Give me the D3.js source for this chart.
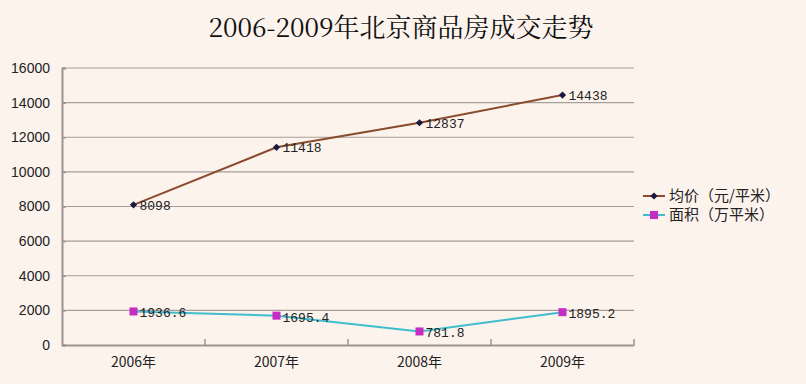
<!DOCTYPE html>
<html lang="zh">
<head>
<meta charset="utf-8">
<title>2006-2009年北京商品房成交走势</title>
<script src="https://d3js.org/d3.v7.min.js"></script>
<style>
  body { margin: 0; background: #fcf3ed; }
  svg { display: block; }
</style>
</head>
<body>
<script>
// data
var years = ["2006年", "2007年", "2008年", "2009年"];
var avgPrice = [8098, 11418, 12837, 14438];
var area = [1936.6, 1695.4, 781.8, 1895.2];
var priceLabels = ["8098", "11418", "12837", "14438"];
var areaLabels = ["1936.6", "1695.4", "781.8", "1895.2"];
var yTicks = [0, 2000, 4000, 6000, 8000, 10000, 12000, 14000, 16000];
var seriesNames = ["均价（元/平米）", "面积（万平米）"];

var width = 806, height = 384;
var margin = {top: 68, right: 172, bottom: 39, left: 62};
var cjk = "'Noto Sans CJK SC', 'Liberation Sans', sans-serif";

var svg = d3.select("body").append("svg")
  .attr("width", width)
  .attr("height", height);

svg.append("rect").attr("width", width).attr("height", height).attr("fill", "#fcf3ed");

// title
svg.append("text")
  .attr("x", 401)
  .attr("y", 37)
  .attr("text-anchor", "middle")
  .style("font-family", "'Noto Serif CJK SC', 'Liberation Serif', 'Noto Sans CJK SC', serif")
  .style("font-size", "26px")
  .style("fill", "#111")
  .text("2006-2009年北京商品房成交走势");

var x = d3.scaleBand()
  .domain(years)
  .range([margin.left, width - margin.right]);

var y = d3.scaleLinear()
  .domain([0, 16000])
  .range([height - margin.bottom, margin.top]);

// grid
svg.append("g")
  .selectAll("line")
  .data(yTicks.slice(1))
  .enter().append("line")
  .attr("x1", margin.left)
  .attr("x2", width - margin.right)
  .attr("y1", function(d) { return y(d); })
  .attr("y2", function(d) { return y(d); })
  .style("stroke", "#a59e99")
  .style("stroke-width", 1.2);

// y axis
var yAxis = svg.append("g")
  .attr("transform", "translate(" + margin.left + ",0)")
  .call(d3.axisLeft(y).tickValues(yTicks).tickFormat(d3.format("d")).tickSize(-4).tickPadding(12));
yAxis.select(".domain").style("stroke", "#9c9490").style("stroke-width", 2);
yAxis.selectAll(".tick line").style("stroke", "#9c9490").style("stroke-width", 1.5);
yAxis.selectAll("text")
  .style("font-family", "'Liberation Sans', Arial, sans-serif")
  .style("font-size", "14px")
  .style("fill", "#222");

// x axis
var xAxis = svg.append("g")
  .attr("transform", "translate(0," + (height - margin.bottom) + ")")
  .call(d3.axisBottom(x).tickSize(0).tickPadding(12));
xAxis.select(".domain").style("stroke", "#9c9490").style("stroke-width", 2);
xAxis.selectAll("text")
  .style("font-family", cjk)
  .style("font-size", "14px")
  .style("fill", "#222");

// category boundary ticks
var bounds = years.map(function(d) { return x(d) + x.bandwidth(); });
xAxis.selectAll(".bound")
  .data(bounds)
  .enter().append("line")
  .attr("class", "bound")
  .attr("x1", function(d) { return d; })
  .attr("x2", function(d) { return d; })
  .attr("y1", 0)
  .attr("y2", -6)
  .style("stroke", "#9c9490")
  .style("stroke-width", 1.5);

function cx(i) { return x(years[i]) + x.bandwidth() / 2; }

var line = d3.line()
  .x(function(d, i) { return cx(i); })
  .y(function(d) { return y(d); });

var diamond = d3.symbol().type(d3.symbolSquare).size(26);

// price series
svg.append("path")
  .datum(avgPrice)
  .attr("d", line)
  .style("fill", "none")
  .style("stroke", "#8a4b2e")
  .style("stroke-width", 2);

svg.selectAll(".pmark")
  .data(avgPrice)
  .enter().append("path")
  .attr("class", "pmark")
  .attr("d", diamond)
  .attr("transform", function(d, i) { return "translate(" + cx(i) + "," + y(d) + ") rotate(45)"; })
  .style("fill", "#17173f");

// area series
svg.append("path")
  .datum(area)
  .attr("d", line)
  .style("fill", "none")
  .style("stroke", "#3fbdcc")
  .style("stroke-width", 2);

svg.selectAll(".amark")
  .data(area)
  .enter().append("rect")
  .attr("class", "amark")
  .attr("x", function(d, i) { return cx(i) - 4; })
  .attr("y", function(d) { return y(d) - 4; })
  .attr("width", 8)
  .attr("height", 8)
  .style("fill", "#c42cc4");

// data labels
var labelFont = "'Liberation Mono', 'DejaVu Sans Mono', monospace";
svg.selectAll(".plabel")
  .data(avgPrice)
  .enter().append("text")
  .attr("x", function(d, i) { return cx(i) + 6; })
  .attr("y", function(d) { return y(d) + 5; })
  .style("font-family", labelFont)
  .style("font-size", "13px")
  .style("fill", "#222")
  .text(function(d, i) { return priceLabels[i]; });

svg.selectAll(".alabel")
  .data(area)
  .enter().append("text")
  .attr("x", function(d, i) { return cx(i) + 6; })
  .attr("y", function(d) { return y(d) + 6; })
  .style("font-family", labelFont)
  .style("font-size", "13px")
  .style("fill", "#222")
  .text(function(d, i) { return areaLabels[i]; });

// legend
var legend = svg.append("g").attr("transform", "translate(643,196)");
var legColors = [["#8a4b2e", "#17173f"], ["#3fbdcc", "#c42cc4"]];
seriesNames.forEach(function(name, i) {
  var g = legend.append("g").attr("transform", "translate(0," + (i * 19) + ")");
  g.append("line").attr("x1", 0).attr("x2", 22).attr("y1", 0).attr("y2", 0)
    .style("stroke", legColors[i][0]).style("stroke-width", 2);
  if (i === 0) {
    g.append("path").attr("d", diamond)
      .attr("transform", "translate(11,0) rotate(45)").style("fill", legColors[i][1]);
  } else {
    g.append("rect").attr("x", 7).attr("y", -4).attr("width", 8).attr("height", 8)
      .style("fill", legColors[i][1]);
  }
  g.append("text")
    .attr("x", 26)
    .attr("y", 5)
    .style("font-family", cjk)
    .style("font-size", "15px")
    .style("fill", "#222")
    .text(name);
});
</script>
</body>
</html>
